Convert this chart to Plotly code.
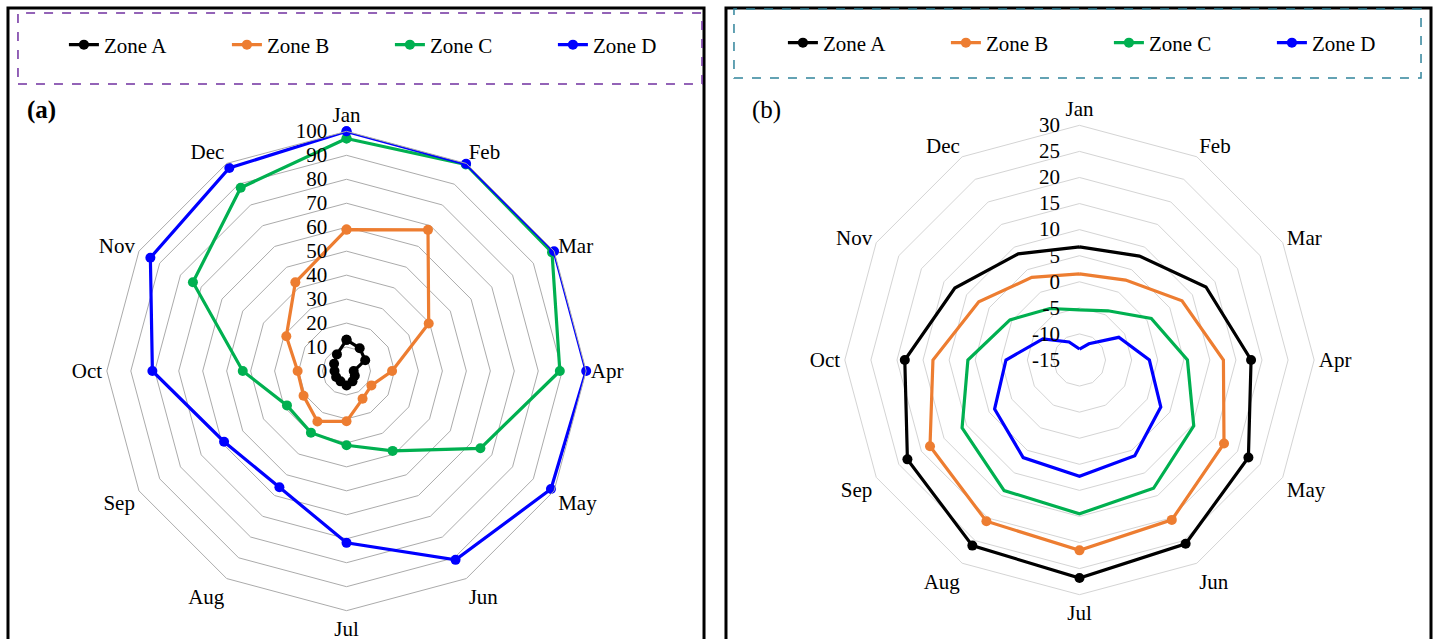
import plotly.graph_objects as go

# Month categories shared by both radar panels
months = ["Jan", "Feb", "Mar", "Apr", "May", "Jun",
          "Jul", "Aug", "Sep", "Oct", "Nov", "Dec"]
zones = ["Zone A", "Zone B", "Zone C", "Zone D"]
colors = ["#000000", "#ED7D31", "#00B050", "#0000FF"]

# Panel (a) values (0-100 scale)
a_zone_a = [13, 11, 9, 3, 4, 5, 6, 5, 5, 5, 6, 8]
a_zone_b = [59, 68, 39.6, 19, 12, 13.4, 21, 24.3, 20.7, 20.4, 29, 42.7]
a_zone_c = [97, 99.5, 99, 89, 64.5, 38.5, 31, 29.7, 28.7, 43.3, 74, 88.3]
a_zone_d = [100, 99.8, 100, 100, 98.5, 91, 71.7, 56, 59, 81, 94.5, 97.8]

# Panel (b) values (-15 to 30 scale)
b_zone_a = [6.7, 8.0, 13.0, 17.9, 22.4, 25.7, 26.8, 26.1, 23.1, 18.5, 12.6, 8.5]
b_zone_b = [1.5, 2.7, 7.7, 12.6, 17.0, 20.4, 21.5, 20.7, 18.1, 13.1, 7.3, 3.3]
b_zone_c = [-5.4, -4.1, 0.9, 5.7, 10.3, 13.4, 14.5, 13.9, 11.0, 6.4, 0.4, -3.6]
b_zone_d = [-12.9, -11.4, -6.3, -1.6, 3.0, 6.2, 7.3, 6.6, 3.8, -0.9, -6.9, -11.0]

# Radial tick values for each panel
ticks_a = list(range(0, 101, 10))
ticks_b = list(range(-15, 31, 5))

panel_a = [a_zone_a, a_zone_b, a_zone_c, a_zone_d]
panel_b = [b_zone_a, b_zone_b, b_zone_c, b_zone_d]

W, H = 1435, 639
FONT = "Liberation Serif"
PAD = "\u00a0" * 3  # keeps radial labels clear of the vertical axis

fig = go.Figure()


def closed(vals):
    return list(vals) + [vals[0]]


for name, col, vals in zip(zones, colors, panel_a):
    fig.add_trace(go.Scatterpolar(
        r=closed(vals), theta=closed(months), name=name, subplot="polar",
        mode="lines+markers", line=dict(color=col, width=3.2),
        marker=dict(color=col, size=10), legend="legend"))

for name, col, vals in zip(zones, colors, panel_b):
    fig.add_trace(go.Scatterpolar(
        r=closed(vals), theta=closed(months), name=name, subplot="polar2",
        mode="lines+markers", line=dict(color=col, width=3.2),
        marker=dict(color=col, size=10), legend="legend2"))


def polar_cfg(cx, cy, rad, tickvals, gridcol):
    return dict(
        domain=dict(x=[(cx - rad) / W, (cx + rad) / W],
                    y=[(H - cy - rad) / H, (H - cy + rad) / H]),
        gridshape="linear",
        bgcolor="rgba(0,0,0,0)",
        radialaxis=dict(range=[tickvals[0], tickvals[-1]],
                        tickmode="array", tickvals=tickvals,
                        ticktext=[f"{v}{PAD}" for v in tickvals],
                        angle=90, tickangle=90,
                        side="counterclockwise", showline=False,
                        ticks="", gridcolor=gridcol, gridwidth=1,
                        tickfont=dict(family=FONT, size=21, color="#000")),
        angularaxis=dict(direction="clockwise", rotation=90,
                         categoryorder="array", categoryarray=months,
                         showgrid=False, showline=True, linecolor=gridcol,
                         linewidth=1, ticks="",
                         tickfont=dict(family=FONT, size=21, color="#000")),
    )


def legend_cfg(x0, yc):
    return dict(orientation="h", x=x0 / W, y=1 - yc / H, yanchor="middle",
                xanchor="left", entrywidth=118, entrywidthmode="pixels",
                font=dict(family=FONT, size=21, color="#000"),
                bgcolor="rgba(0,0,0,0)")


fig.update_layout(
    width=W, height=H,
    margin=dict(l=0, r=0, t=0, b=0),
    paper_bgcolor="white",
    polar=polar_cfg(347, 371, 240, ticks_a, "#ababab"),
    polar2=polar_cfg(1081, 360, 235, ticks_b, "#d4d4d4"),
    legend=legend_cfg(64, 45),
    legend2=legend_cfg(784, 43),
    showlegend=True,
)

# Panel frames and dashed legend boxes
shapes = [
    dict(type="rect", xref="paper", yref="paper",
         x0=8 / W, x1=705 / W, y0=-0.05, y1=1 - 8 / H,
         line=dict(color="#000", width=3)),
    dict(type="rect", xref="paper", yref="paper",
         x0=727 / W, x1=1433 / W, y0=-0.05, y1=1 - 8 / H,
         line=dict(color="#000", width=3)),
    dict(type="rect", xref="paper", yref="paper",
         x0=18 / W, x1=703 / W, y0=1 - 84 / H, y1=1 - 13 / H,
         line=dict(color="#7030A0", width=1.5, dash="dash")),
    dict(type="rect", xref="paper", yref="paper",
         x0=735 / W, x1=1423 / W, y0=1 - 78 / H, y1=1 - 9 / H,
         line=dict(color="#31849B", width=1.5, dash="dash")),
]
fig.update_layout(shapes=shapes)

fig.add_annotation(x=42 / W, y=1 - 110 / H, xref="paper", yref="paper",
                   xanchor="center", yanchor="middle",
                   text="<b>(a)</b>", showarrow=False,
                   font=dict(family=FONT, size=25, color="#000"))
fig.add_annotation(x=768 / W, y=1 - 110 / H, xref="paper", yref="paper",
                   xanchor="center", yanchor="middle",
                   text="(b)", showarrow=False,
                   font=dict(family=FONT, size=25, color="#000"))

fig.write_html("out.html")
